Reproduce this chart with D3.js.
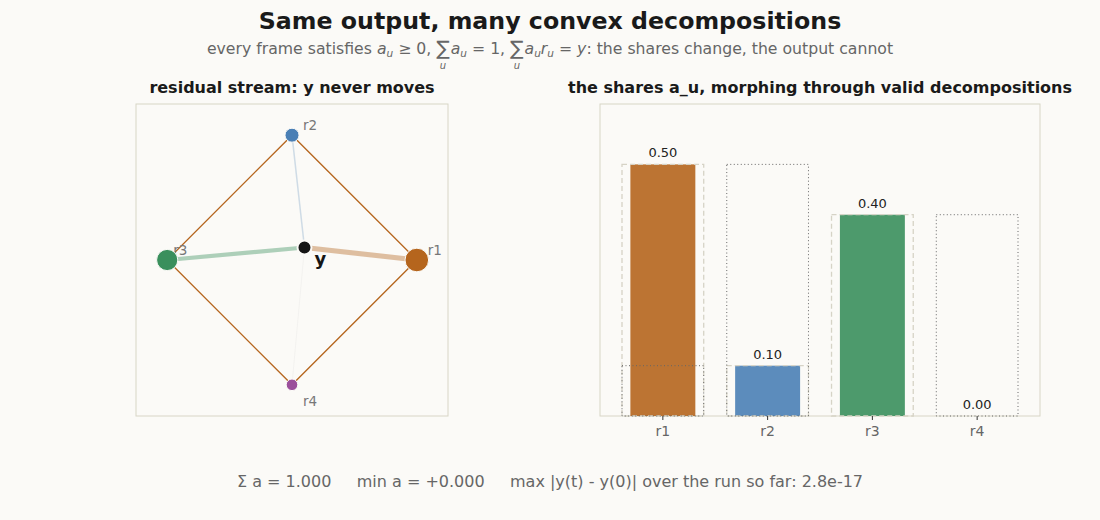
<!DOCTYPE html>
<html>
<head>
<meta charset="utf-8">
<title>Same output, many convex decompositions</title>
<script src="https://d3js.org/d3.v7.min.js"></script>
<style>
  body { margin: 0; background: #fbfaf7; }
  svg { display: block; font-family: "DejaVu Sans", sans-serif; }
</style>
</head>
<body>
<svg width="1100" height="520"></svg>
<script>
// data
const units = ["r1", "r2", "r3", "r4"];
const unitX = [1, 0, -1, 0];
const unitY = [0, 1, 0, -1];
const shares = [0.50, 0.10, 0.40, 0.00];
const startShares = [0.50, 0.10, 0.40, 0.00];   // light dashed outline
const otherShares = [0.10, 0.50, 0.00, 0.40];   // dotted outline
const unitColors = ["#b5651d", "#4a7fb5", "#3a8f5c", "#9b4f9b"];
const footer = "Σ a = 1.000     min a = +0.000     max |y(t) - y(0)| over the run so far: 2.8e-17";

// svg trims and collapses plain spaces, keep them as nbsp
const keep = s => s.replace(/ /g, "\u00a0");

const W = 1100, H = 520;
const svg = d3.select("svg");
svg.append("rect").attr("width", W).attr("height", H).attr("fill", "#fbfaf7");

// titles
svg.append("text").attr("x", 550).attr("y", 29).attr("text-anchor", "middle")
  .attr("font-size", 23.7).attr("font-weight", "bold").attr("fill", "#1a1a1a")
  .text("Same output, many convex decompositions");

// subtitle with math, laid out piece by piece
const sub = svg.append("g").attr("fill", "#666");
const pieces = [
  {t: "every frame satisfies "},
  {t: "a", it: 1}, {t: "u", it: 1, sub: 1}, {t: " ≥ 0, "},
  {t: "∑", sig: 1}, {t: "a", it: 1}, {t: "u", it: 1, sub: 1}, {t: " = 1, "},
  {t: "∑", sig: 1}, {t: "a", it: 1}, {t: "u", it: 1, sub: 1}, {t: "r", it: 1}, {t: "u", it: 1, sub: 1},
  {t: " = "}, {t: "y", it: 1}, {t: ": the shares change, the output cannot"}
];
let cx = 0;
const baseY = 54;
pieces.forEach(p => {
  const fs = p.sub ? 10.5 : (p.sig ? 20 : 15.7);
  const t = sub.append("text")
    .attr("x", cx).attr("y", p.sub ? baseY + 3 : (p.sig ? baseY + 1 : baseY))
    .attr("font-size", fs)
    .attr("font-style", p.it ? "italic" : null)
    .text(keep(p.t));
  const w = t.node().getComputedTextLength();
  if (p.sig) {
    sub.append("text").attr("x", cx + w / 2).attr("y", baseY + 15)
      .attr("text-anchor", "middle").attr("font-size", 10).attr("font-style", "italic").text("u");
  }
  cx += w + (p.sig ? 1 : 0);
});
sub.attr("transform", `translate(${550 - cx / 2},0)`);

// left panel: residual stream
const L = {x0: 136, x1: 448, y0: 104, y1: 416};
const lx = d3.scaleLinear().domain([-1.25, 1.25]).range([L.x0, L.x1]);
const ly = d3.scaleLinear().domain([-1.25, 1.25]).range([L.y1, L.y0]);

svg.append("text").attr("x", (L.x0 + L.x1) / 2).attr("y", 93).attr("text-anchor", "middle")
  .attr("font-size", 16).attr("font-weight", "bold").attr("fill", "#1a1a1a")
  .text("residual stream: y never moves");

svg.append("rect").attr("x", L.x0).attr("y", L.y0).attr("width", L.x1 - L.x0).attr("height", L.y1 - L.y0)
  .attr("fill", "none").attr("stroke", "#d8d5c6");

const verts = units.map((u, i) => ({u, x: unitX[i], y: unitY[i], a: shares[i], c: unitColors[i]}));
const yx = d3.sum(verts, d => d.a * d.x), yy = d3.sum(verts, d => d.a * d.y);

// hull edges
const hullOrder = [0, 1, 2, 3, 0];
svg.append("path")
  .attr("d", d3.line().x(i => lx(verts[i].x)).y(i => ly(verts[i].y))(hullOrder))
  .attr("fill", "none").attr("stroke", "#b5651d").attr("stroke-width", 1.3);

// spokes y -> r_u, width by share
svg.selectAll("line.spoke").data(verts).enter().append("line")
  .attr("x1", lx(yx)).attr("y1", ly(yy))
  .attr("x2", d => lx(d.x)).attr("y2", d => ly(d.y))
  .attr("stroke", d => d.a > 0 ? d.c : "#c8c8c8")
  .attr("stroke-opacity", d => d.a > 0.2 ? 0.4 : 0.25)
  .attr("stroke-width", d => 0.6 + 9 * d.a);

// labels (drawn beneath points)
svg.selectAll("text.vlab").data(verts).enter().append("text")
  .attr("x", d => lx(d.x) + (d.x < 0 ? 6 : 11))
  .attr("y", d => ly(d.y) + (d.y < 0 ? 21 : -5))
  .attr("font-size", 13.5).attr("fill", "#777").text(d => d.u);

svg.selectAll("circle.vert").data(verts).enter().append("circle")
  .attr("cx", d => lx(d.x)).attr("cy", d => ly(d.y))
  .attr("r", d => 5.8 + 12 * d.a)
  .attr("fill", d => d.c).attr("stroke", "#fbfaf7").attr("stroke-width", 1);

svg.append("circle").attr("cx", lx(yx)).attr("cy", ly(yy)).attr("r", 7)
  .attr("fill", "#151515").attr("stroke", "#fbfaf7").attr("stroke-width", 2);
svg.append("text").attr("x", lx(yx) + 10).attr("y", ly(yy) + 17)
  .attr("font-size", 18).attr("font-weight", "bold").attr("fill", "#151515").text("y");

// right panel: shares
const R = {x0: 600, x1: 1040, y0: 104, y1: 416};
const bx = d3.scaleBand().domain(units).range([R.x0, R.x1]).paddingInner(0).paddingOuter(0.1);
const by = d3.scaleLinear().domain([0, 0.62]).range([R.y1, R.y0]);
const step = bx.step();

svg.append("text").attr("x", (R.x0 + R.x1) / 2).attr("y", 93).attr("text-anchor", "middle")
  .attr("font-size", 16).attr("font-weight", "bold").attr("fill", "#1a1a1a")
  .text("the shares a_u, morphing through valid decompositions");

svg.append("rect").attr("x", R.x0).attr("y", R.y0).attr("width", R.x1 - R.x0).attr("height", R.y1 - R.y0)
  .attr("fill", "none").attr("stroke", "#d8d5c6");

const barData = units.map((u, i) => ({u, a: shares[i], s: startShares[i], o: otherShares[i], c: unitColors[i]}));
const mid = u => bx(u) + step / 2;

svg.selectAll("rect.bar").data(barData).enter().append("rect")
  .attr("x", d => mid(d.u) - 0.31 * step).attr("width", 0.62 * step)
  .attr("y", d => by(d.a)).attr("height", d => by(0) - by(d.a))
  .attr("fill", d => d.c).attr("fill-opacity", 0.9);

svg.selectAll("rect.start").data(barData).enter().append("rect")
  .attr("x", d => mid(d.u) - 0.39 * step).attr("width", 0.78 * step)
  .attr("y", d => by(d.s)).attr("height", d => by(0) - by(d.s))
  .attr("fill", "none").attr("stroke", "#d6d3c6").attr("stroke-width", 1.3).attr("stroke-dasharray", "5,3");

svg.selectAll("rect.other").data(barData).enter().append("rect")
  .attr("x", d => mid(d.u) - 0.39 * step).attr("width", 0.78 * step)
  .attr("y", d => by(d.o)).attr("height", d => by(0) - by(d.o))
  .attr("fill", "none").attr("stroke", "#666").attr("stroke-width", 1).attr("stroke-dasharray", "1,2.5");

svg.selectAll("text.val").data(barData).enter().append("text")
  .attr("x", d => mid(d.u)).attr("y", d => by(d.a) - 7).attr("text-anchor", "middle")
  .attr("font-size", 13).attr("fill", "#222").text(d => d.a.toFixed(2));

const xAxis = svg.append("g").attr("transform", `translate(0,${R.y1})`)
  .call(d3.axisBottom(bx).tickSize(4).tickPadding(6));
xAxis.select(".domain").remove();
xAxis.selectAll(".tick line").attr("stroke", "#333");
xAxis.selectAll(".tick text").attr("font-size", 14).attr("fill", "#666").attr("font-family", "DejaVu Sans");

// footer
svg.append("text").attr("x", 550).attr("y", 487).attr("text-anchor", "middle")
  .attr("font-size", 16).attr("fill", "#666").text(keep(footer));
</script>
</body>
</html>
